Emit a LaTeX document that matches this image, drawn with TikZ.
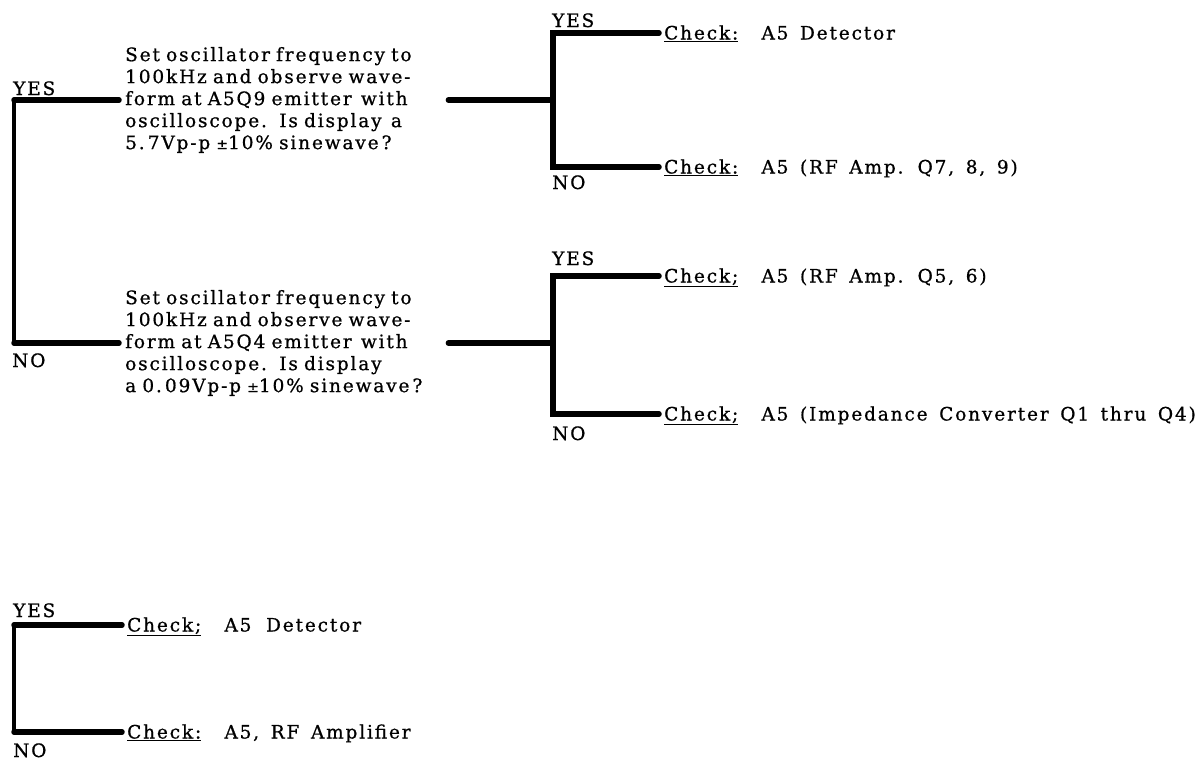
\documentclass[tikz,border=0pt]{standalone}
\usepackage{fontspec}
\setmainfont[LetterSpace=10, WordSpace=1.5, FakeBold=0.8]{DejaVu Serif}
\newcommand{\pmsmall}{{\fontsize{14}{22}\selectfont±}}
\begin{document}
\begin{tikzpicture}[x=1pt,y=-1pt,
  txt/.style={font=\fontsize{18.5}{22}\selectfont, inner sep=0pt},
  qbox/.style={txt, anchor=west, text width=316pt, align=left},
  chk/.style={txt, anchor=west, text height=13pt, text depth=0pt},
  lbl/.style={txt, anchor=base west},
  hl/.style={line width=5.5pt, line cap=round},
  vl/.style={line width=3.5pt},
  brk/.style={line width=5.5pt, line cap=round, line join=miter}]
\useasboundingbox (0,0) rectangle (1201,761);

% questions
\node[qbox] (q1) at (125,100) {Set oscillator frequency to\\100kHz and observe wave-\\form at A5Q9 emitter \,with\\oscilloscope.\ \ Is display \,a\\5.\,7Vp-p \pmsmall10\% sinewave\,?};
\node[qbox] (q2) at (125,343) {Set oscillator frequency to\\100kHz and observe wave-\\form at A5Q4 emitter \,with\\oscilloscope.\ \ Is display\\a 0.\,09Vp-p \pmsmall10\% sinewave\,?};

% check results
\node[chk] (c1) at (664,33) {\underline{Check:}\ \ A5 Detector};
\node[chk] (c2) at (664,167) {\underline{Check:}\ \ A5 (RF Amp. Q7, 8, 9)};
\node[chk] (c3) at (664,276) {\underline{Check;}\ \ A5 (RF Amp. Q5, 6)};
\node[chk] (c4) at (664,414) {\underline{Check;}\ \ A5 (Impedance Converter Q1 thru Q4)};
\node[chk] (c5) at (127,625) {\underline{Check;}\ \ A5 \,Detector};
\node[chk] (c6) at (127,732) {\underline{Check:}\ \ A5, RF Amplifier};

% labels
\node[lbl] (y1) at (13,95) {YES};
\node[lbl] (n1) at (12,367) {NO};
\node[lbl] (y2) at (552,27) {YES};
\node[lbl] (n2) at (552,189) {NO};
\node[lbl] (y3) at (552,265) {YES};
\node[lbl] (n3) at (552,440) {NO};
\node[lbl] (y4) at (13,617) {YES};
\node[lbl] (n4) at (13,757) {NO};

% bracket corners
\coordinate (la) at (14,100);
\coordinate (lb) at (14,343);
\coordinate (ra) at (553,33);
\coordinate (rm) at (553,100);
\coordinate (rb) at (553,167);
\coordinate (sa) at (553,276);
\coordinate (sm) at (553,343);
\coordinate (sb) at (553,414);
\coordinate (ba) at (14,625);
\coordinate (bb) at (14,732);

% left bracket
\draw[vl] (la) -- (lb);
\draw[hl] (la) -- ([xshift=-6pt]q1.west);
\draw[hl] (lb) -- ([xshift=-6pt]q2.west);

% question 1 outcomes
\draw[hl] ([xshift=7pt]q1.east) -- (rm);
\draw[brk] ([xshift=-5pt]c1.west) -- (ra) -- (rb) -- ([xshift=-5pt]c2.west);

% question 2 outcomes
\draw[hl] ([xshift=7pt]q2.east) -- (sm);
\draw[brk] ([xshift=-5pt]c3.west) -- (sa) -- (sb) -- ([xshift=-5pt]c4.west);

% bottom bracket
\draw[vl] (ba) -- (bb);
\draw[hl] (ba) -- ([xshift=-5pt]c5.west);
\draw[hl] (bb) -- ([xshift=-5pt]c6.west);
\end{tikzpicture}
\end{document}
